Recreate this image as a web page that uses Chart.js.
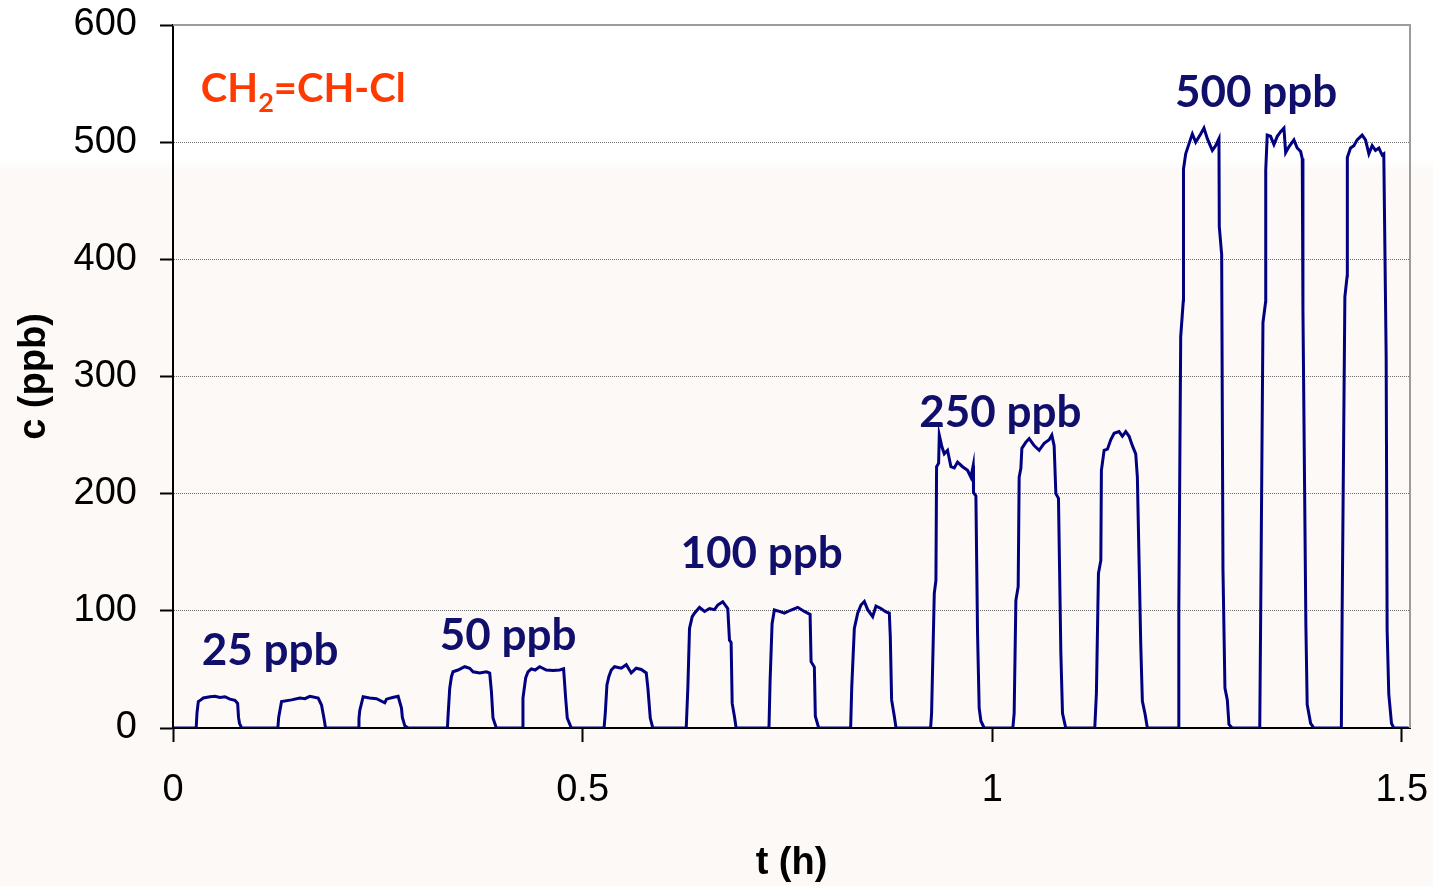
<!DOCTYPE html>
<html>
<head>
<meta charset="utf-8">
<script src="https://cdn.jsdelivr.net/npm/chart.js@4"></script>
<style>
  html, body { margin: 0; padding: 0; }
  body {
    width: 1433px; height: 886px; overflow: hidden;
    background: linear-gradient(to bottom, #ffffff 0px, #ffffff 158px, #fcf9f6 172px, #fcf9f6 100%);
  }
  #wrap { position: relative; width: 1433px; height: 886px; }
</style>
</head>
<body>
<div id="wrap"><canvas id="chart"></canvas></div>
<script>
// time (h) and concentration (ppb), grouped by dose
const t25 = [0, .0283, .0293, .0309, .0340, .0370, .0451, .0512, .0573, .0634, .0695, .0756, .0789, .0800, .0812, .0838,
  .1280, .1290, .1305, .1325, .1447, .1549, .1610, .1671, .1772, .1813, .1846, .1862,
  .2262, .2270, .2280, .2321, .2400, .2484, .2585, .2606, .2680, .2748, .2789, .2800, .2829, .2870];
const c25 = [0, 0, 13, 22.5, 24, 25.6, 26.7, 27, 26, 26.7, 24.6, 23.6, 21, 9, 4, 0,
  0, 9, 15, 22.5, 24, 25.6, 25, 27, 25.6, 19.6, 7, 0,
  0, 8, 15, 26.7, 25.6, 25, 21.5, 24.6, 26, 27, 17, 9, 2, 0];

const t50 = [.3350, .3357, .3378, .3399, .3418, .3479, .3561, .3622, .3663, .3744, .3826, .3866, .3887, .3906, .3947,
  .4264, .4272, .4305, .4333, .4374, .4420, .4476, .4557, .4640, .4720, .4768, .4793, .4813, .4862,
  .5262, .5277, .5297, .5321, .5350, .5390, .5472, .5533, .5594, .5655, .5716, .5777, .5797, .5826, .5857];
const c50 = [0, 9.7, 33.9, 43.8, 48, 49.5, 52.3, 51, 48, 46.9, 48, 46.9, 31, 8.5, 0,
  0, 25.6, 42.7, 48, 50.5, 49.5, 52.3, 49.5, 49, 49.5, 50.5, 25.6, 8.5, 0,
  0, 12.8, 36.7, 44, 49.5, 52.3, 51, 54, 47, 51, 50, 47, 34, 8.5, 0];

const t100 = [.6265, .6285, .6305, .6338, .6366, .6427, .6488, .6549, .6610, .6650, .6711, .6772, .6793, .6813, .6826, .6854, .6874,
  .7275, .7289, .7313, .7341, .7402, .7463, .7545, .7626, .7707, .7777, .7789, .7829, .7841, .7882,
  .8272, .8285, .8317, .8358, .8398, .8439, .8480, .8541, .8581, .8642, .8703, .8744, .8756, .8772, .8805, .8826];
const c100 = [0, 35, 85, 95, 98, 103, 99.5, 102, 101, 105, 107.8, 102, 75, 73, 21, 9.6, 0,
  0, 41, 89, 100.7, 99.5, 98, 100.7, 103, 99.5, 97, 56.6, 52, 10, 0,
  0, 34, 85, 98, 105, 108, 101, 95, 104, 102, 99, 98, 78, 24, 10, 0];

const t250 = [.9248, .9260, .9293, .9313, .9321, .9346, .9354, .9386, .9415, .9455, .9496, .9537, .9577, .9638, .9699, .9740, .9768, .9772, .9801, .9821, .9841, .9862, .9902,
  1.0252, 1.0268, 1.0289, 1.0317, 1.0329, 1.0350, 1.0362, 1.0411, 1.0451, 1.0512, 1.0573, 1.0634, 1.0695, 1.0728, 1.0756, 1.0777, 1.0809, 1.0838, 1.0858, 1.0898,
  1.1252, 1.1272, 1.1297, 1.1326, 1.1333, 1.1366, 1.1407, 1.1447, 1.1488, 1.1549, 1.1589, 1.1630, 1.1671, 1.1711, 1.1752, 1.1772, 1.1813, 1.1833, 1.1866, 1.1894];
const c250 = [0, 12.5, 115, 126, 223, 226, 250, 240, 234, 237, 223, 222, 227, 223, 220, 214, 224, 201, 198, 81, 17, 6, 0,
  0, 12.5, 109, 120.6, 214, 221.6, 238.7, 244, 247, 241, 237, 243, 246, 250, 241, 200, 196, 64, 12.5, 0,
  0, 29.6, 132, 143, 220, 237, 238, 246, 251.5, 253, 249, 253, 249, 241, 234, 214, 72, 23, 12, 0];

const t500 = [1.2270, 1.2276, 1.2280, 1.2301, 1.2333, 1.2335, 1.2362, 1.2423, 1.2443, 1.2484, 1.2545, 1.2585, 1.2626, 1.2687, 1.2728, 1.2768, 1.2772, 1.2801, 1.2817, 1.2841, 1.2870, 1.2890, 1.2930,
  1.3266, 1.3277, 1.3305, 1.3338, 1.3339, 1.3357, 1.3398, 1.3439, 1.3480, 1.3521, 1.3561, 1.3582, 1.3622, 1.3683, 1.3723, 1.3765, 1.3785, 1.3793, 1.3829, 1.3845, 1.3887, 1.3927,
  1.4262, 1.4272, 1.4305, 1.4333, 1.4335, 1.4374, 1.4415, 1.4455, 1.4516, 1.4557, 1.4598, 1.4638, 1.4679, 1.4720, 1.4760, 1.4780, 1.4809, 1.4821, 1.4841, 1.4874, 1.4902, 1.5080];
const c500 = [0, 90, 102, 334, 365, 477, 490, 503, 507, 500, 507, 512, 503, 493, 497, 503, 428, 404, 135, 34, 24, 3, 0,
  0, 94, 346, 364, 476, 506, 505, 498, 505, 509, 512, 491, 496, 502, 495, 492, 486, 358, 88, 20, 4, 0,
  0, 102, 368, 386, 487, 495, 497, 502, 506, 502, 490, 497, 493, 495, 489, 490, 317, 83, 29, 4, 0, 0];

const xTicks = [0, 0.5, 1, 1.5];
const yTicks = [0, 100, 200, 300, 400, 500, 600];

// annotation anchors (left edge, baseline) in data units
const notes = [
  { text: '25 ppb', t: 0.035, c: 54 },
  { text: '50 ppb', t: 0.3256, c: 66.5 },
  { text: '100 ppb', t: 0.6195, c: 136.5 },
  { text: '250 ppb', t: 0.911, c: 257 },
  { text: '500 ppb', t: 1.2232, c: 530 }
];
const species = { parts: ['CH', '2', '=CH-Cl'], t: 0.034, c: 534 };

const ts = [].concat(t25, t50, t100, t250, t500);
const cs = [].concat(c25, c50, c100, c250, c500);
const points = ts.map((t, i) => ({ x: t, y: cs[i] }));

Chart.defaults.font.family = '"Liberation Sans", Arial, sans-serif';
Chart.defaults.color = '#000';

const extras = {
  id: 'extras',
  afterDraw(chart) {
    const { ctx, chartArea: a, scales: { x, y } } = chart;
    ctx.save();
    // grey frame on top and right
    ctx.strokeStyle = '#9c9c9c';
    ctx.lineWidth = 2;
    ctx.beginPath();
    ctx.moveTo(a.left, a.top);
    ctx.lineTo(a.right, a.top);
    ctx.lineTo(a.right, a.bottom);
    ctx.stroke();

    ctx.textBaseline = 'alphabetic';
    ctx.textAlign = 'left';
    ctx.fillStyle = '#10106c';
    ctx.font = 'bold 44px Lato, "Open Sans", sans-serif';
    notes.forEach(n => ctx.fillText(n.text, x.getPixelForValue(n.t), y.getPixelForValue(n.c)));

    // CH2=CH-Cl with subscript
    let px = x.getPixelForValue(species.t);
    const py = y.getPixelForValue(species.c);
    ctx.fillStyle = '#ff3a00';
    ctx.font = 'bold 40px Lato, "Open Sans", sans-serif';
    ctx.fillText(species.parts[0], px, py);
    px += ctx.measureText(species.parts[0]).width;
    ctx.font = 'bold 27px Lato, "Open Sans", sans-serif';
    ctx.fillText(species.parts[1], px, py + 10);
    px += ctx.measureText(species.parts[1]).width;
    ctx.font = 'bold 40px Lato, "Open Sans", sans-serif';
    ctx.fillText(species.parts[2], px, py);
    ctx.restore();
  }
};

new Chart(document.getElementById('chart'), {
  type: 'line',
  data: {
    datasets: [{
      data: points,
      borderColor: '#000080',
      borderWidth: 3,
      pointRadius: 0,
      tension: 0,
      fill: false
    }]
  },
  options: {
    responsive: true,
    maintainAspectRatio: false,
    animation: false,
    layout: { padding: { top: 25, right: 23, left: 0, bottom: 0 } },
    plugins: { legend: { display: false }, tooltip: { enabled: false } },
    scales: {
      x: {
        type: 'linear',
        min: 0,
        max: 1.51,
        afterBuildTicks: s => { s.ticks = xTicks.map(v => ({ value: v })); },
        afterFit: s => { s.height = 158; s.paddingLeft = 0; s.paddingRight = 0; },
        ticks: {
          autoSkip: false, maxRotation: 0, padding: 26,
          font: { size: 38 },
          callback: v => String(v)
        },
        grid: { drawOnChartArea: false, tickLength: 14, tickColor: '#000', tickWidth: 2 },
        border: { color: '#000', width: 2 },
        title: { display: true, text: 't (h)', font: { size: 38, weight: 'bold' }, padding: { top: 0, bottom: 0 } }
      },
      y: {
        min: 0,
        max: 600,
        afterBuildTicks: s => { s.ticks = yTicks.map(v => ({ value: v })); },
        afterFit: s => { s.width = 173; s.paddingTop = 0; s.paddingBottom = 0; },
        ticks: { padding: 23, font: { size: 38 } },
        grid: {
          color: '#6f6f6f', lineWidth: 1,
          tickLength: 13, tickColor: '#000', tickWidth: 2, tickBorderDash: []
        },
        border: { color: '#000', width: 2, dash: [1, 1] },
        title: { display: true, text: 'c (ppb)', font: { size: 38, weight: 'bold' }, padding: { top: 12, bottom: 0 } }
      }
    }
  },
  plugins: [extras]
});
</script>
</body>
</html>
